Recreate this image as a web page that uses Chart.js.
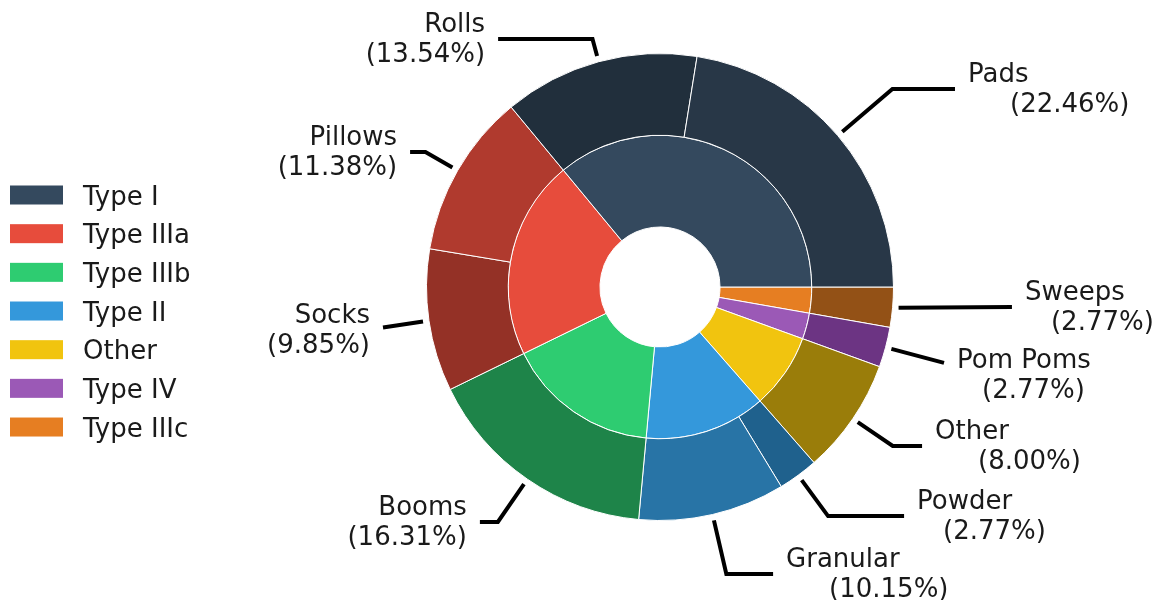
<!DOCTYPE html>
<html>
<head>
<meta charset="utf-8">
<title>Product mix</title>
<script src="https://cdn.jsdelivr.net/npm/chart.js@4.4.1/dist/chart.umd.min.js"></script>
<style>
  html, body { margin: 0; padding: 0; background: #ffffff; }
  #wrap { width: 1158px; height: 600px; position: relative; }
</style>
</head>
<body>
<div id="wrap"><canvas id="mix" width="1158" height="600"></canvas></div>
<script>
// Outer ring: individual products, listed counter-clockwise from 3 o'clock
const itemNames  = ['Pads', 'Rolls', 'Pillows', 'Socks', 'Booms', 'Granular', 'Powder', 'Other', 'Pom Poms', 'Sweeps'];
const itemShares = [22.46, 13.54, 11.38, 9.85, 16.31, 10.15, 2.77, 8.00, 2.77, 2.77];
const itemColors = ['#283747', '#212f3c', '#b03a2e', '#943126', '#1e8449', '#2874a6', '#1f618d', '#9a7d0a', '#6c3483', '#935116'];

// Inner ring: product types, same order
const typeNames  = ['Type I', 'Type IIIa', 'Type IIIb', 'Type II', 'Other', 'Type IV', 'Type IIIc'];
const typeShares = [36.00, 21.23, 16.31, 12.92, 8.00, 2.77, 2.77];
const typeColors = ['#34495e', '#e74c3c', '#2ecc71', '#3498db', '#f1c40f', '#9b59b6', '#e67e22'];

// Where each product caption sits, in outer-radius units from the centre (x right, y up)
const labelSpots = [
  [1.319, 0.848], [-0.749, 1.062], [-1.126, 0.578], [-1.242, -0.184], [-0.827, -1.006],
  [0.540, -1.229], [1.101, -0.981], [1.178, -0.681], [1.272, -0.377], [1.563, -0.086]
];
// Indent (px) of the percentage line for captions on the right-hand side
const pctIndent = [42, 0, 0, 0, 0, 43, 26, 43, 25, 26];

const FONT = '26px "DejaVu Sans", "Liberation Sans", sans-serif';
const TEXT = '#1a1a1a';

// Chart.js runs clockwise, so feed the rings reversed and start at 3 o'clock
const rev = a => a.slice().reverse();

const captions = {
  id: 'captions',
  afterDatasetsDraw(chart) {
    const ctx = chart.ctx;
    const meta = chart.getDatasetMeta(0);
    const n = itemNames.length;
    ctx.save();
    ctx.font = FONT;
    ctx.fillStyle = TEXT;
    ctx.strokeStyle = '#000000';
    ctx.lineWidth = 4;
    ctx.lineJoin = 'miter';
    ctx.lineCap = 'butt';
    for (let i = 0; i < n; i++) {
      const arc = meta.data[n - 1 - i];
      const p = arc.getProps(['x', 'y', 'startAngle', 'endAngle', 'outerRadius'], true);
      const mid = (p.startAngle + p.endAngle) / 2;
      const dx = Math.cos(mid), dy = Math.sin(mid);
      const R = p.outerRadius;
      const sx = p.x + dx * (R + 6), sy = p.y + dy * (R + 6);
      const tx = p.x + labelSpots[i][0] * R;
      const ty = p.y - labelSpots[i][1] * R;
      const right = tx > p.x;
      const endX = right ? tx - 13 : tx + 13;

      // leader: along the slice direction, then level into the caption
      let t = Math.abs(dy) > 1e-6 ? (ty - sy) / dy : 0;
      if (t < 0) t = 0;
      const ex = sx + dx * t, ey = sy + dy * t;
      ctx.beginPath();
      ctx.moveTo(sx, sy);
      if ((right && ex >= endX) || (!right && ex <= endX)) {
        const t2 = (endX - sx) / dx;
        ctx.lineTo(endX, sy + dy * t2);
      } else {
        ctx.lineTo(ex, ey);
        ctx.lineTo(endX, ty);
      }
      ctx.stroke();

      const pct = '(' + itemShares[i].toFixed(2) + '%)';
      ctx.textBaseline = 'alphabetic';
      if (right) {
        ctx.textAlign = 'left';
        ctx.fillText(itemNames[i], tx, ty - 7);
        ctx.fillText(pct, tx + pctIndent[i], ty + 23);
      } else {
        ctx.textAlign = 'right';
        ctx.fillText(itemNames[i], tx, ty - 7);
        ctx.fillText(pct, tx, ty + 23);
      }
    }
    ctx.restore();
  }
};

const typeKey = {
  id: 'typeKey',
  afterDraw(chart) {
    const ctx = chart.ctx;
    ctx.save();
    ctx.font = FONT;
    ctx.textAlign = 'left';
    ctx.textBaseline = 'alphabetic';
    typeNames.forEach((name, i) => {
      const cy = 195 + i * 38.67;
      ctx.fillStyle = typeColors[i];
      ctx.fillRect(10, cy - 9.5, 53, 19);
      ctx.fillStyle = TEXT;
      ctx.fillText(name, 83, cy + 9.5);
    });
    ctx.restore();
  }
};

new Chart(document.getElementById('mix'), {
  type: 'doughnut',
  data: {
    labels: rev(itemNames),
    datasets: [
      {
        label: 'Products',
        data: rev(itemShares),
        backgroundColor: rev(itemColors),
        borderColor: '#ffffff',
        borderWidth: 1,
        weight: 82
      },
      {
        label: 'Types',
        labels: rev(typeNames),
        data: rev(typeShares),
        backgroundColor: rev(typeColors),
        borderColor: '#ffffff',
        borderWidth: 1,
        weight: 92
      }
    ]
  },
  options: {
    responsive: false,
    devicePixelRatio: 1,
    animation: false,
    rotation: 90,
    cutout: '25.7%',
    layout: { padding: { left: 200, right: 38, top: 53, bottom: 79 } },
    plugins: {
      legend: { display: false },
      tooltip: { enabled: false }
    }
  },
  plugins: [captions, typeKey]
});
</script>
</body>
</html>
